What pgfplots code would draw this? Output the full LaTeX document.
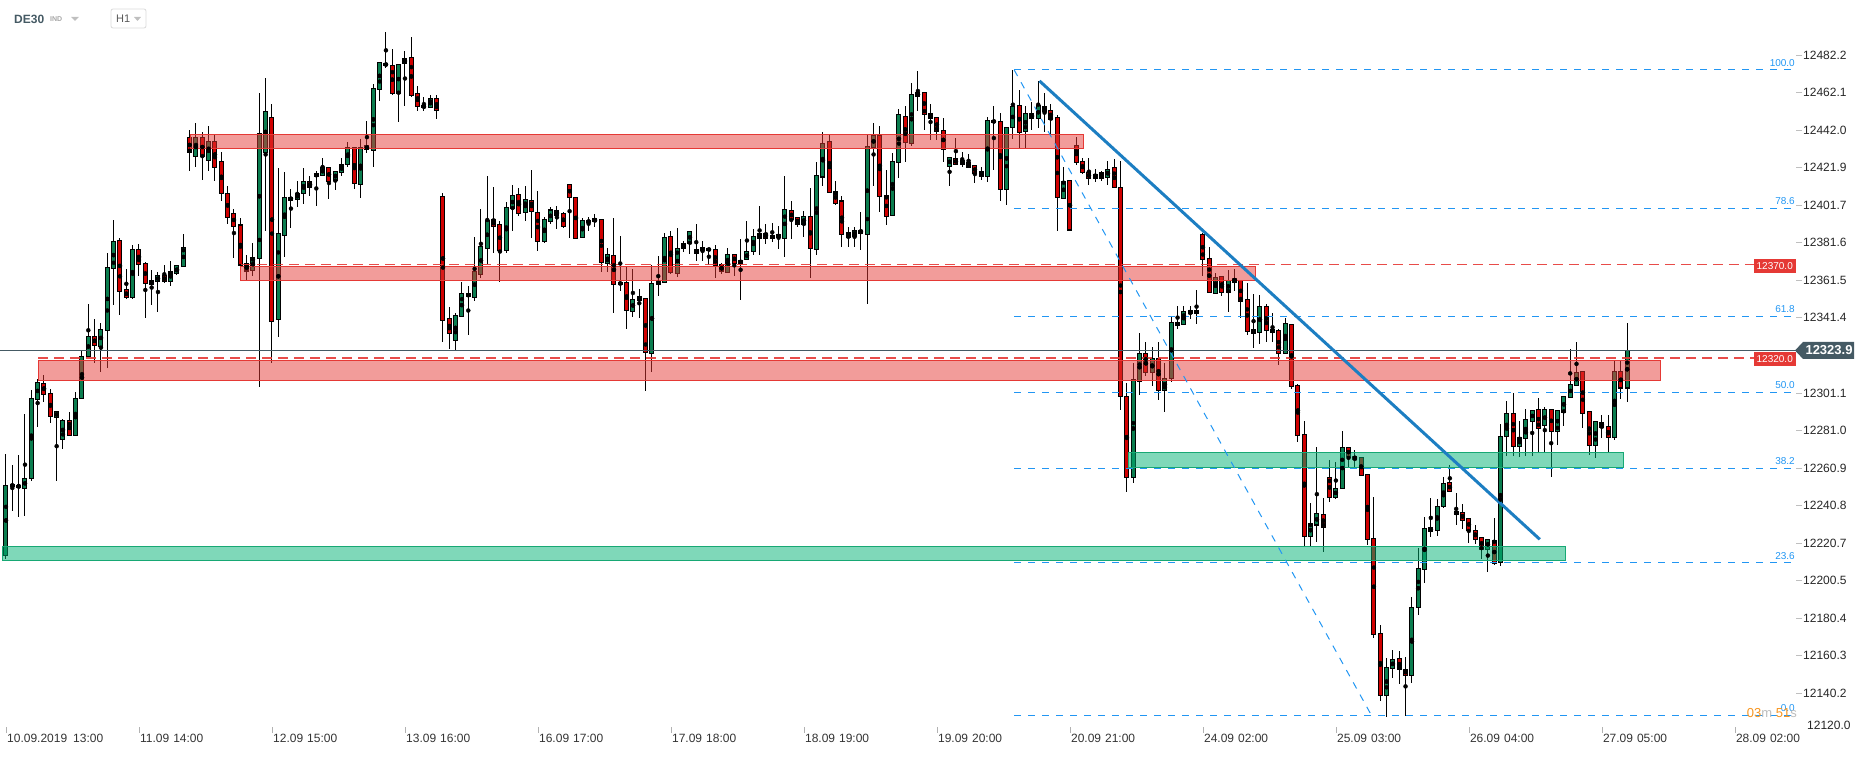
\documentclass[border=0pt]{standalone}
\usepackage{fontspec}
\setmainfont{Liberation Sans}
\usepackage{pgfplots}
\usepackage{pgfplotstable}
\pgfplotsset{compat=1.18}
\definecolor{cgreen}{HTML}{0B7D4F}
\definecolor{cred}{HTML}{D00000}
\definecolor{zred}{HTML}{E53935}
\definecolor{zgreen}{HTML}{00B173}
\definecolor{zgreenline}{HTML}{17A874}
\definecolor{fib}{HTML}{2196F3}
\definecolor{trend}{HTML}{1C7EC2}
\definecolor{slate}{HTML}{455A64}
\definecolor{labgray}{HTML}{333333}
\definecolor{cdorange}{HTML}{F7941D}
\definecolor{cdgray}{HTML}{BDBDBD}

\pgfplotstableread{
i o h l c
0 12214.0 12268.4 12212.0 12251.8
1 12252.2 12262.5 12238.1 12251.1
2 12251.6 12267.9 12234.9 12250.6
3 12250.0 12290.2 12235.4 12255.4
4 12255.4 12302.7 12254.1 12298.2
5 12297.7 12308.4 12283.1 12306.8
6 12306.3 12310.8 12296.5 12300.4
7 12300.9 12303.6 12285.2 12288.6
8 12288.1 12291.3 12254.1 12291.3
9 12276.3 12287.0 12270.9 12286.6
10 12286.6 12290.9 12278.4 12278.4
11 12278.4 12301.5 12278.4 12298.2
12 12298.2 12324.5 12298.2 12320.8
13 12320.8 12348.8 12320.8 12331.5
14 12331.5 12341.1 12317.4 12326.5
15 12326.1 12338.4 12312.5 12335.2
16 12334.7 12375.9 12314.7 12368.4
17 12367.9 12393.8 12348.3 12382.4
18 12382.9 12384.5 12342.9 12355.6
19 12356.6 12367.9 12351.5 12352.2
20 12352.2 12380.4 12351.5 12378.1
21 12378.1 12380.9 12363.8 12370.0
22 12370.6 12371.3 12341.5 12359.7
23 12359.3 12367.0 12348.3 12361.5
24 12360.9 12365.9 12344.7 12364.1
25 12364.1 12369.7 12359.9 12360.7
26 12360.9 12371.8 12358.4 12366.3
27 12365.0 12369.5 12364.3 12369.5
28 12369.0 12386.3 12369.0 12379.1
29 12438.0 12442.0 12420.0 12430.0
30 12428.0 12446.0 12422.0 12438.0
31 12438.0 12441.0 12415.0 12428.0
32 12426.0 12444.0 12420.0 12436.0
33 12436.0 12440.0 12415.0 12422.0
34 12425.0 12430.0 12404.0 12408.0
35 12408.0 12412.0 12391.6 12395.2
36 12397.4 12400.0 12373.8 12390.2
37 12391.1 12394.8 12364.3 12369.7
38 12370.6 12375.0 12361.6 12366.6
39 12366.6 12381.6 12363.8 12373.8
40 12373.2 12462.0 12304.3 12440.0
41 12430.0 12470.0 12388.0 12452.0
42 12448.8 12456.0 12317.0 12339.4
43 12340.6 12421.5 12331.3 12386.7
44 12385.4 12419.4 12374.2 12406.0
45 12406.0 12410.2 12389.7 12404.5
46 12404.9 12414.7 12401.0 12408.1
47 12408.1 12421.5 12402.6 12414.5
48 12414.5 12417.4 12406.9 12411.3
49 12417.2 12420.1 12401.5 12418.5
50 12417.7 12427.0 12417.4 12422.2
51 12422.2 12422.2 12405.1 12414.4
52 12415.1 12419.9 12410.1 12419.9
53 12419.4 12427.0 12417.6 12423.6
54 12423.6 12435.6 12422.4 12432.7
55 12432.7 12432.7 12410.6 12413.5
56 12412.9 12437.2 12405.8 12432.7
57 12431.7 12446.8 12429.9 12433.5
58 12431.1 12467.0 12422.4 12464.4
59 12463.8 12478.3 12457.9 12478.3
60 12477.9 12494.4 12475.1 12476.5
61 12476.7 12485.2 12460.8 12461.5
62 12461.5 12477.7 12446.5 12477.2
63 12477.6 12484.2 12455.1 12480.4
64 12481.0 12491.9 12459.7 12460.4
65 12461.7 12465.6 12452.4 12454.7
66 12455.2 12459.7 12452.4 12454.0
67 12454.0 12460.6 12454.0 12458.8
68 12459.0 12460.8 12448.1 12452.6
69 12406.3 12408.1 12328.6 12340.2
70 12341.0 12347.0 12324.7 12333.1
71 12329.2 12343.8 12323.8 12342.8
72 12342.0 12360.8 12342.0 12354.5
73 12354.5 12358.5 12332.2 12352.7
74 12352.4 12384.5 12350.6 12366.1
75 12364.9 12399.5 12362.6 12379.5
76 12378.5 12417.4 12370.2 12393.5
77 12394.2 12411.3 12376.0 12390.3
78 12391.5 12393.0 12360.8 12377.4
79 12377.4 12403.6 12376.3 12400.6
80 12399.9 12412.6 12388.1 12407.0
81 12407.6 12411.1 12396.0 12397.2
82 12397.8 12412.0 12393.3 12404.9
83 12404.4 12420.6 12384.4 12398.3
84 12397.9 12409.4 12377.4 12382.2
85 12382.2 12395.6 12381.7 12393.8
86 12392.9 12400.6 12391.5 12399.2
87 12399.0 12401.3 12389.1 12396.1
88 12397.4 12398.2 12389.7 12390.2
89 12412.9 12412.9 12384.3 12405.8
90 12405.9 12405.9 12384.0 12384.0
91 12384.5 12395.2 12384.0 12393.6
92 12393.8 12395.6 12388.1 12392.5
93 12392.9 12397.0 12390.2 12394.7
94 12394.2 12394.2 12366.1 12370.9
95 12370.9 12378.6 12366.1 12375.4
96 12374.9 12395.2 12344.1 12359.3
97 12359.3 12385.2 12355.9 12360.4
98 12360.4 12368.8 12335.6 12345.4
99 12344.9 12367.5 12342.0 12351.3
100 12350.7 12357.2 12341.5 12352.9
101 12352.0 12352.0 12302.4 12322.9
102 12322.4 12370.0 12312.5 12359.9
103 12359.3 12374.5 12353.2 12361.1
104 12360.2 12386.6 12360.2 12384.5
105 12385.0 12387.9 12364.7 12365.6
106 12365.1 12389.3 12363.4 12378.6
107 12378.4 12382.5 12376.8 12381.3
108 12381.3 12387.7 12375.6 12387.7
109 12375.9 12392.0 12372.0 12378.2
110 12379.1 12382.5 12372.0 12377.5
111 12378.6 12378.6 12369.7 12377.5
112 12378.2 12380.4 12362.9 12369.3
113 12369.7 12370.9 12364.9 12366.1
114 12365.8 12379.1 12365.8 12375.4
115 12375.4 12375.4 12363.8 12370.9
116 12370.6 12383.4 12350.9 12372.2
117 12372.7 12393.2 12372.7 12377.0
118 12377.0 12389.3 12375.0 12385.0
119 12384.1 12401.3 12375.0 12386.6
120 12386.6 12391.6 12380.9 12384.0
121 12384.0 12392.4 12382.2 12385.8
122 12386.1 12390.6 12378.2 12384.5
123 12384.0 12417.4 12374.1 12399.5
124 12399.0 12404.0 12383.8 12394.2
125 12395.2 12395.2 12390.2 12391.3
126 12391.3 12398.6 12384.9 12395.9
127 12395.9 12410.8 12362.5 12378.4
128 12378.1 12425.0 12375.4 12417.7
129 12417.0 12441.1 12412.0 12434.9
130 12436.0 12440.2 12408.6 12408.6
131 12409.2 12414.7 12401.8 12402.7
132 12404.0 12406.7 12379.5 12386.1
133 12386.9 12390.2 12379.5 12384.5
134 12385.1 12390.1 12379.5 12388.3
135 12388.3 12397.9 12377.8 12386.5
136 12386.1 12439.9 12348.8 12433.1
137 12432.7 12446.0 12412.0 12439.4
138 12439.2 12444.2 12398.3 12406.5
139 12407.0 12420.6 12391.3 12395.8
140 12396.3 12429.9 12396.3 12425.4
141 12424.5 12453.1 12416.5 12450.1
142 12449.5 12454.9 12425.1 12435.2
143 12434.7 12467.6 12433.5 12461.1
144 12459.9 12473.6 12452.4 12462.2
145 12462.2 12462.2 12442.0 12450.4
146 12451.1 12456.0 12436.7 12448.1
147 12448.8 12448.8 12436.7 12441.1
148 12441.9 12448.3 12425.1 12431.7
149 12422.6 12427.4 12412.0 12427.4
150 12427.0 12438.1 12423.6 12423.6
151 12423.6 12430.2 12422.4 12425.4
152 12424.7 12429.2 12422.0 12422.0
153 12423.1 12423.1 12413.8 12418.8
154 12419.9 12422.4 12415.2 12417.0
155 12417.0 12449.2 12414.3 12446.9
156 12446.0 12454.9 12420.6 12447.4
157 12446.9 12451.0 12404.2 12410.1
158 12410.1 12443.5 12401.9 12443.5
159 12443.3 12474.2 12437.0 12454.9
160 12455.3 12463.5 12432.2 12440.6
161 12441.3 12454.9 12432.2 12451.1
162 12451.1 12457.2 12442.0 12448.1
163 12448.1 12468.3 12442.9 12454.9
164 12454.9 12461.7 12441.1 12451.9
165 12452.6 12456.3 12440.2 12447.6
166 12449.0 12450.1 12388.1 12406.0
167 12405.4 12422.4 12405.4 12414.7
168 12415.1 12415.1 12388.6 12388.6
169 12433.8 12438.1 12423.3 12424.7
170 12425.3 12427.0 12418.5 12419.2
171 12419.4 12426.9 12412.6 12416.0
172 12416.0 12421.1 12414.3 12418.5
173 12419.0 12420.0 12415.0 12416.3
174 12416.7 12425.4 12412.6 12421.1
175 12421.8 12426.6 12411.0 12411.0
176 12411.0 12425.4 12292.3 12299.4
177 12299.4 12306.3 12247.9 12255.9
178 12255.9 12317.1 12252.9 12308.4
179 12307.5 12333.1 12299.9 12322.4
180 12322.1 12328.5 12310.2 12312.0
181 12312.0 12325.8 12305.0 12319.8
182 12319.8 12328.5 12297.2 12302.7
183 12302.7 12317.1 12291.2 12309.1
184 12309.1 12342.3 12306.8 12339.1
185 12339.1 12347.6 12335.4 12337.2
186 12337.9 12347.6 12337.9 12344.6
187 12343.9 12347.6 12340.7 12345.3
188 12343.9 12356.7 12338.4 12345.3
189 12385.8 12386.9 12364.0 12372.5
190 12373.4 12379.6 12354.9 12354.9
191 12354.4 12365.2 12354.4 12362.9
192 12363.6 12363.6 12353.0 12354.9
193 12355.3 12366.8 12344.6 12361.3
194 12362.7 12367.5 12355.6 12360.6
195 12361.5 12361.5 12341.6 12350.3
196 12351.4 12359.9 12332.0 12334.0
197 12333.1 12354.2 12325.1 12334.9
198 12333.6 12353.7 12327.4 12347.3
199 12347.3 12348.7 12328.5 12334.7
200 12335.0 12344.1 12328.5 12333.6
201 12334.5 12335.4 12315.9 12322.4
202 12322.4 12341.1 12322.4 12338.2
203 12337.9 12337.9 12303.3 12304.7
204 12305.2 12306.3 12275.2 12278.4
205 12279.1 12286.0 12219.1 12224.3
206 12224.3 12242.2 12218.6 12231.2
207 12230.5 12272.4 12221.4 12236.5
208 12236.2 12244.9 12215.9 12229.4
209 12256.0 12265.6 12242.7 12245.2
210 12245.2 12264.0 12244.5 12250.2
211 12249.8 12280.9 12249.8 12272.0
212 12272.0 12272.0 12261.0 12266.9
213 12265.6 12270.8 12261.0 12267.2
214 12266.3 12266.3 12256.4 12257.1
215 12257.3 12257.3 12219.8 12222.7
216 12223.2 12245.4 12170.0 12171.6
217 12172.3 12176.9 12136.1 12139.1
218 12139.1 12159.1 12127.7 12154.0
219 12153.8 12163.2 12148.7 12158.6
220 12158.6 12163.0 12145.0 12153.0
221 12153.0 12160.0 12128.0 12150.0
222 12150.0 12192.0 12146.0 12186.0
223 12186.0 12217.9 12182.0 12207.1
224 12206.6 12234.8 12199.1 12228.6
225 12229.1 12244.6 12223.8 12226.8
226 12227.5 12244.6 12224.6 12240.5
227 12240.2 12256.3 12239.3 12252.7
228 12253.2 12262.9 12248.2 12248.2
229 12237.7 12247.9 12230.4 12236.1
230 12237.2 12241.6 12228.6 12233.0
231 12233.9 12233.9 12220.5 12227.5
232 12227.5 12230.4 12220.5 12222.7
233 12223.8 12223.8 12212.5 12217.3
234 12217.3 12222.7 12205.4 12222.7
235 12222.2 12233.9 12208.9 12209.8
236 12210.4 12284.3 12208.6 12278.0
237 12277.7 12296.8 12267.3 12290.2
238 12290.2 12301.3 12267.5 12272.3
239 12272.3 12286.3 12267.0 12277.3
240 12276.8 12292.5 12267.5 12287.0
241 12285.7 12292.0 12267.5 12292.0
242 12292.3 12298.6 12269.6 12282.2
243 12283.6 12293.8 12268.8 12292.3
244 12292.3 12292.3 12256.3 12280.4
245 12280.4 12291.8 12273.2 12291.8
246 12291.1 12299.3 12283.4 12299.3
247 12298.8 12324.5 12298.8 12305.7
248 12305.0 12328.6 12305.0 12312.1
249 12312.7 12312.7 12282.5 12290.2
250 12291.3 12291.3 12267.9 12272.9
251 12272.9 12285.9 12266.4 12285.9
252 12285.4 12289.3 12276.8 12282.5
253 12283.2 12289.7 12269.6 12277.2
254 12277.2 12318.2 12275.9 12312.7
255 12312.7 12318.2 12297.9 12303.9
256 12303.9 12338.5 12296.4 12323.9
}\candles

\begin{document}
\begin{tikzpicture}
\path[use as bounding box] (0pt,-29pt) rectangle (1866pt,727pt);
\begin{axis}[
  at={(0pt,0pt)}, anchor=south west,
  scale only axis, width=1796pt, height=727pt,
  xmin=-0.947, xmax=282.66, ymin=12122.15, ymax=12511.67,
  clip=false,
  axis line style={draw=none},
  tick align=outside,
  major tick length=6pt,
  xtick pos=bottom, ytick pos=right,
  xtick={0,21,42,63,84,105,126,147,168,189,210,231,252,273},
  xticklabels={10.09.2019\hspace{6pt}13:00, 11.09\hspace{4pt}14:00, 12.09\hspace{4pt}15:00, 13.09\hspace{4pt}16:00, 16.09\hspace{4pt}17:00, 17.09\hspace{4pt}18:00, 18.09\hspace{4pt}19:00, 19.09\hspace{4pt}20:00, 20.09\hspace{4pt}21:00, 24.09\hspace{4pt}02:00, 25.09\hspace{4pt}03:00, 26.09\hspace{4pt}04:00, 27.09\hspace{4pt}05:00, 28.09\hspace{4pt}02:00},
  x tick style={draw=gray!60, line width=0.6pt},
  xticklabel style={anchor=north west, inner sep=0pt, xshift=1pt, yshift=-1pt, font=\fontsize{12}{14}\selectfont, text=labgray},
  ytick={12140.2,12160.3,12180.4,12200.5,12220.7,12240.8,12260.9,12281.0,12301.1,12341.4,12361.5,12381.6,12401.7,12421.9,12442.0,12462.1,12482.2},
  yticklabels={12140.2,12160.3,12180.4,12200.5,12220.7,12240.8,12260.9,12281.0,12301.1,12341.4,12361.5,12381.6,12401.7,12421.9,12442.0,12462.1,12482.2},
  yticklabel pos=right,
  y tick style={draw=gray!50, line width=0.8pt},
  yticklabel style={anchor=west, inner sep=0pt, xshift=1pt, font=\fontsize{12}{14}\selectfont, text=black!85},
]
% wicks
\addplot[only marks, mark=none, error bars/.cd, y dir=both, y explicit, error mark=none,
  error bar style={line width=1pt, black}]
  table[x=i, y expr={(\thisrow{h}+\thisrow{l})/2}, y error expr={(\thisrow{h}-\thisrow{l})/2}] {\candles};
% body outlines
\addplot[only marks, mark=none, error bars/.cd, y dir=both, y explicit, error mark=none,
  error bar style={line width=5pt, black}]
  table[x=i, y expr={(\thisrow{o}+\thisrow{c})/2}, y error expr={abs(\thisrow{o}-\thisrow{c})/2+0.3}] {\candles};
% green bodies
\addplot[only marks, mark=none, error bars/.cd, y dir=both, y explicit, error mark=none,
  error bar style={line width=3pt, cgreen}]
  table[x=i, y expr={\thisrow{c}>=\thisrow{o} ? (\thisrow{o}+\thisrow{c})/2 : nan}, y error expr={max(abs(\thisrow{o}-\thisrow{c})/2-0.27,0)}] {\candles};
% red bodies
\addplot[only marks, mark=none, error bars/.cd, y dir=both, y explicit, error mark=none,
  error bar style={line width=3pt, cred}]
  table[x=i, y expr={\thisrow{c}<\thisrow{o} ? (\thisrow{o}+\thisrow{c})/2 : nan}, y error expr={max(abs(\thisrow{o}-\thisrow{c})/2-0.27,0)}] {\candles};

% zones
\addplot[draw=zred, line width=1pt, fill=zred, fill opacity=0.5] coordinates {(29.1,12432.2) (170.2,12432.2) (170.2,12439.7) (29.1,12439.7)} -- cycle;
\addplot[draw=zred, line width=1pt, fill=zred, fill opacity=0.5] coordinates {(37.1,12361.5) (197.3,12361.5) (197.3,12369.1) (37.1,12369.1)} -- cycle;
\addplot[draw=zred, line width=1pt, fill=zred, fill opacity=0.5] coordinates {(5.1,12308.0) (261.2,12308.0) (261.2,12318.7) (5.1,12318.7)} -- cycle;
\addplot[draw=zgreenline, line width=1pt, fill=zgreen, fill opacity=0.5] coordinates {(-0.6,12211.2) (246.3,12211.2) (246.3,12218.7) (-0.6,12218.7)} -- cycle;
\addplot[draw=zgreenline, line width=1pt, fill=zgreen, fill opacity=0.5] coordinates {(177.2,12261.0) (255.4,12261.0) (255.4,12269.4) (177.2,12269.4)} -- cycle;

% red dashed levels
\addplot[zred, line width=1.8pt, dash pattern=on 10pt off 6pt, opacity=0.9] coordinates {(37.1,12370) (282.66,12370)};
\addplot[zred, line width=1.8pt, dash pattern=on 10pt off 6pt, opacity=0.9] coordinates {(5.1,12320) (282.66,12320)};

% current price
\addplot[slate, line width=1pt] coordinates {(-0.947,12323.9) (282.66,12323.9)};

% fibonacci
\addplot[fib, line width=1pt, dash pattern=on 7pt off 7pt] coordinates {(159.2,12474.2) (282.66,12474.2)};
\addplot[fib, line width=1pt, dash pattern=on 7pt off 7pt] coordinates {(159.2,12400.2) (282.66,12400.2)};
\addplot[fib, line width=1pt, dash pattern=on 7pt off 7pt] coordinates {(159.2,12342.1) (282.66,12342.1)};
\addplot[fib, line width=1pt, dash pattern=on 7pt off 7pt] coordinates {(159.2,12301.35) (282.66,12301.35)};
\addplot[fib, line width=1pt, dash pattern=on 7pt off 7pt] coordinates {(159.2,12260.6) (282.66,12260.6)};
\addplot[fib, line width=1pt, dash pattern=on 7pt off 7pt] coordinates {(159.2,12210.1) (282.66,12210.1)};
\addplot[fib, line width=1pt, dash pattern=on 7pt off 7pt] coordinates {(159.2,12128.5) (282.66,12128.5)};
\addplot[fib, line width=1pt, dash pattern=on 7pt off 7pt] coordinates {(159.2,12474.2) (215.6,12128.5)};

% trend line
\addplot[trend, line width=3pt] coordinates {(163.2,12468.3) (242.2,12222.7)};

% fib labels
\node[anchor=south east, inner sep=0pt, text=fib, font=\fontsize{10}{10}\selectfont] at (axis cs:282.5,12474.2) [yshift=3.5pt] {100.0};
\node[anchor=south east, inner sep=0pt, text=fib, font=\fontsize{10}{10}\selectfont] at (axis cs:282.5,12400.2) [yshift=3.5pt] {78.6};
\node[anchor=south east, inner sep=0pt, text=fib, font=\fontsize{10}{10}\selectfont] at (axis cs:282.5,12342.1) [yshift=3.5pt] {61.8};
\node[anchor=south east, inner sep=0pt, text=fib, font=\fontsize{10}{10}\selectfont] at (axis cs:282.5,12301.35) [yshift=3.5pt] {50.0};
\node[anchor=south east, inner sep=0pt, text=fib, font=\fontsize{10}{10}\selectfont] at (axis cs:282.5,12260.6) [yshift=3.5pt] {38.2};
\node[anchor=south east, inner sep=0pt, text=fib, font=\fontsize{10}{10}\selectfont] at (axis cs:282.5,12210.1) [yshift=3.5pt] {23.6};
\node[anchor=south east, inner sep=0pt, text=fib, font=\fontsize{10}{10}\selectfont] at (axis cs:282.5,12128.5) [yshift=3.5pt] {0.0};

% level labels
\node[fill=zred, text=white, inner xsep=3pt, inner ysep=0pt, minimum height=14pt, anchor=east, font=\fontsize{10}{10}\selectfont] at (axis cs:282.66,12370) [yshift=-1.5pt] {12370.0};
\node[fill=zred, text=white, inner xsep=3pt, inner ysep=0pt, minimum height=14pt, anchor=east, font=\fontsize{10}{10}\selectfont] at (axis cs:282.66,12320) [yshift=-1.5pt] {12320.0};

% current price label
\fill[slate] ([xshift=-1pt]axis cs:282.66,12323.9) -- ++(8pt,8.5pt) -- ++(51pt,0pt) -- ++(0pt,-17pt) -- ++(-51pt,0pt) -- cycle;
\node[text=white, font=\bfseries\fontsize{13}{13}\selectfont, inner sep=0pt] at ([xshift=33pt]axis cs:282.66,12323.9) {12323.9};
\end{axis}

% bottom price label without tick
\node[anchor=west, inner sep=0pt, font=\fontsize{12}{14}\selectfont, text=black!85] at (1807pt,1.5pt) {12120.0};

% countdown
\node[anchor=east, inner sep=0pt, font=\fontsize{13}{13}\selectfont] at (1797pt,14pt) {\textcolor{cdorange}{03}\textcolor{cdgray}{m} \textcolor{cdorange}{51}\textcolor{cdgray}{s}};

% header
\node[anchor=west, inner sep=0pt, font=\bfseries\fontsize{12}{12}\selectfont, text=slate] at (14pt,708pt) {DE30};
\node[anchor=west, inner sep=0pt, font=\bfseries\fontsize{7}{7}\selectfont, text=black!35] at (50pt,708pt) {IND};
\fill[black!25] (71pt,710pt) -- (79pt,710pt) -- (75pt,706pt) -- cycle;
\draw[black!15, rounded corners=2pt, line width=0.8pt] (111pt,718pt) rectangle (146pt,699pt);
\node[anchor=west, inner sep=0pt, font=\fontsize{11}{11}\selectfont, text=black!65] at (116pt,708.5pt) {H1};
\fill[black!25] (134pt,710pt) -- (141pt,710pt) -- (137.5pt,706pt) -- cycle;
\end{tikzpicture}
\end{document}
